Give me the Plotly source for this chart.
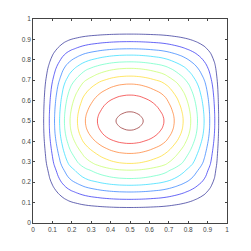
import numpy as np
import plotly.graph_objects as go

# Contour crossings read along the horizontal mid-line (y = 0.5), plus a few estimated points
x_nodes = [0, 0.055, 0.084, 0.111, 0.137, 0.162, 0.191, 0.229, 0.270, 0.332, 0.380, 0.428,
           0.464, 0.5, 0.534, 0.568, 0.620, 0.675, 0.728, 0.774, 0.813, 0.848, 0.882, 0.911,
           0.937, 0.957, 1]
# Contour crossings read along the vertical mid-line (x = 0.5), plus a few estimated points
y_nodes = [0, 0.076, 0.116, 0.152, 0.185, 0.218, 0.259, 0.292, 0.341, 0.390, 0.423, 0.455,
           0.478, 0.5, 0.522, 0.545, 0.585, 0.627, 0.681, 0.720, 0.758, 0.790, 0.823, 0.854,
           0.889, 0.926, 1]
# Field value (in contour-level units) at those points
peak = 11.2
x_vals = [0, 2, 3, 4, 5, 6, 7, 8, 9, 10, 10.6, 11, 11.15, peak, 11.15, 11, 10.6, 10,
          9, 8, 7, 6, 5, 4, 3, 2, 0]
y_vals = [0, 2, 3, 4, 5, 6, 7, 8, 9, 10, 10.6, 11, 11.15, peak, 11.15, 11, 10.6, 10,
          9, 8, 7, 6, 5, 4, 3, 2, 0]
levels = [2, 3, 4, 5, 6, 7, 8, 9, 10, 11]
tick_vals = [0, 0.1, 0.2, 0.3, 0.4, 0.5, 0.6, 0.7, 0.8, 0.9, 1]
tick_text = ["0", "0.1", "0.2", "0.3", "0.4", "0.5", "0.6", "0.7", "0.8", "0.9", "1"]

# combine the two mid-line profiles into a field on the node grid
gx = np.array(x_vals) / peak
gy = np.array(y_vals) / peak
p = 0.3
GX, GY = np.meshgrid(gx, gy)
z = np.zeros_like(GX)
mask = (GX > 0) & (GY > 0)
z[mask] = peak * (GX[mask] ** (-p) + GY[mask] ** (-p) - 1) ** (-1 / p)

jet = [[0, "rgb(0,0,128)"], [0.125, "rgb(0,0,255)"], [0.375, "rgb(0,255,255)"],
       [0.625, "rgb(255,255,0)"], [0.875, "rgb(255,0,0)"], [1, "rgb(128,0,0)"]]

fig = go.Figure(go.Contour(
    x=x_nodes, y=y_nodes, z=z,
    contours=dict(start=levels[0], end=levels[-1], size=1, coloring="lines", showlabels=False),
    colorscale=jet, zmin=1.5, zmax=11.5, showscale=False,
    line=dict(width=0.7, smoothing=1.3),
    opacity=0.85,
    hoverinfo="skip",
))

axis_common = dict(
    range=[0, 1], tickvals=tick_vals, ticktext=tick_text,
    ticks="inside", ticklen=2, tickcolor="#444", tickwidth=0.6,
    showline=True, linecolor="#444", linewidth=0.7, mirror="allticks",
    showgrid=False, zeroline=False, automargin=False,
    tickfont=dict(family="Liberation Sans, Arial", size=6.5, color="#444"),
)
fig.update_xaxes(**axis_common)
fig.update_yaxes(**axis_common)
fig.update_layout(
    width=251, height=251,
    margin=dict(l=25, r=32, t=11, b=36, autoexpand=False),
    plot_bgcolor="white", paper_bgcolor="white",
    showlegend=False,
)
fig.write_html("out.html")
